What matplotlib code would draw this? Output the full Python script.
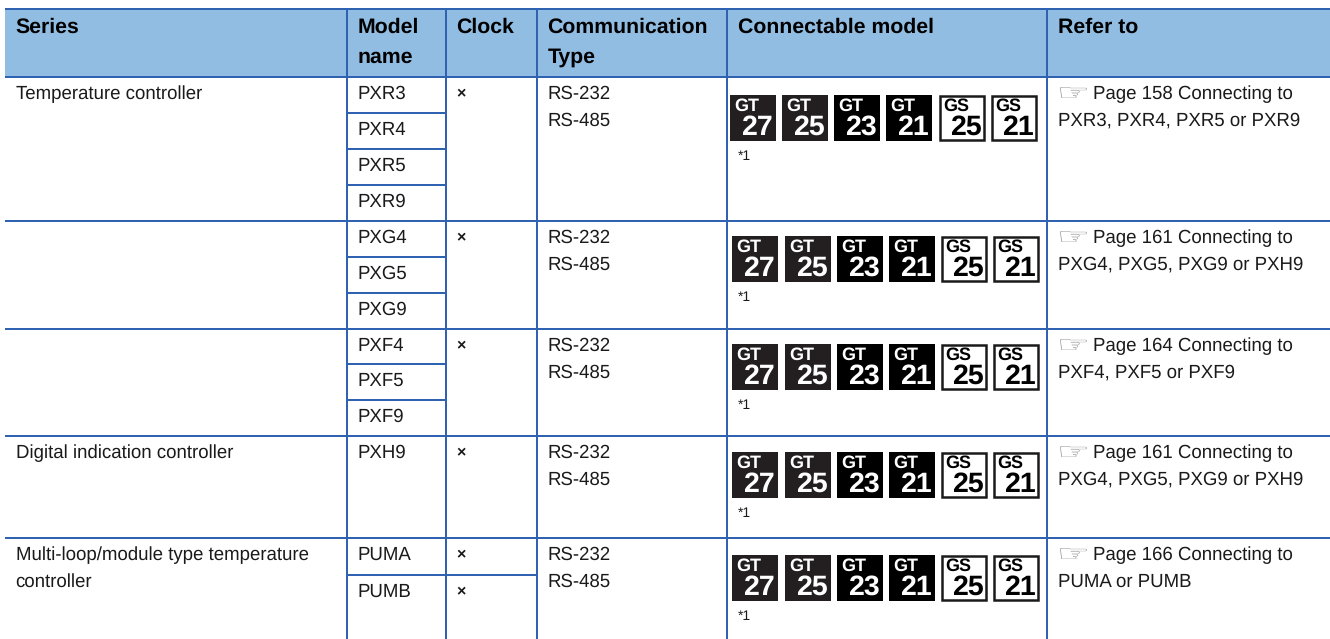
import matplotlib
matplotlib.use("Agg")
import matplotlib.pyplot as plt
from matplotlib.patches import Rectangle, PathPatch
from matplotlib.textpath import TextPath
from matplotlib.font_manager import FontProperties
from matplotlib.transforms import Affine2D

W, H = 1330, 639
FONT = ["Liberation Sans", "DejaVu Sans"]
plt.rcParams["font.family"] = FONT
plt.rcParams["text.hinting"] = "no_hinting"
plt.rcParams["text.hinting_factor"] = 8

# ---- content
headers = [["Series"], ["Model", "name"], ["Clock"], ["Communication", "Type"],
           ["Connectable model"], ["Refer to"]]
series = [("Temperature controller",), ("Digital indication controller",),
          ("Multi-loop/module type temperature", "controller")]
models = ["PXR3", "PXR4", "PXR5", "PXR9", "PXG4", "PXG5", "PXG9", "PXF4", "PXF5", "PXF9",
          "PXH9", "PUMA", "PUMB"]
clock_mark = "×"
comm_types = ["RS-232", "RS-485"]
refers = [("Page 158 Connecting to", "PXR3, PXR4, PXR5 or PXR9"),
          ("Page 161 Connecting to", "PXG4, PXG5, PXG9 or PXH9"),
          ("Page 164 Connecting to", "PXF4, PXF5 or PXF9"),
          ("Page 161 Connecting to", "PXG4, PXG5, PXG9 or PXH9"),
          ("Page 166 Connecting to", "PUMA or PUMB")]
badge_series = ["GT", "GT", "GT", "GT", "GS", "GS"]
badge_numbers = ["27", "25", "23", "21", "25", "21"]
footnote = "*1"
pointer = "\u261e"

# ---- layout (pixels)
col_x = [5, 347, 446, 537, 727, 1047, 1330]
top_y, head_y = 9, 77
model_y = [77, 113, 149, 185, 221, 257, 293, 329, 364, 400, 436, 538, 575, 639]
series_rows = [(0, 10), (10, 11), (11, 13)]
group_rows = [(0, 4), (4, 7), (7, 10), (10, 11), (11, 13)]
clock_rows = [0, 4, 7, 10, 11, 12]
badge_tops = [95, 236, 344, 452, 555]
badge_x_first = [730, 782, 834, 886, 939, 991]
badge_x_rest = [732, 785, 837, 889, 941, 993]
BLUE, HEAD = "#2f62b0", "#91bde3"
TXT = "#1a1a1a"

fig = plt.figure(figsize=(W / 100, H / 100), dpi=100)
ax = fig.add_axes([0, 0, 1, 1])
ax.set_xlim(0, W)
ax.set_ylim(H, 0)
ax.axis("off")

ax.add_patch(Rectangle((col_x[0], top_y), W - col_x[0], head_y - top_y, fc=HEAD, ec="none", zorder=0))


def hl(y, x0=col_x[0], x1=W):
    ax.plot([x0, x1], [y, y], color=BLUE, lw=1.44, solid_capstyle="butt", zorder=2)


def vl(x, y0=top_y, y1=H):
    ax.plot([x, x], [y0, y1], color=BLUE, lw=1.44, solid_capstyle="butt", zorder=2)


hl(top_y)
hl(head_y)
for x in col_x[1:6]:
    vl(x)
for a, b in group_rows[1:]:
    hl(model_y[a])
for i in range(1, 13):
    hl(model_y[i], col_x[1], col_x[2])
hl(model_y[12], col_x[1], col_x[3])

BODY = 13.4
HEADSZ = 15.3


def body(x, y, s, **kw):
    ax.text(x, y, s, fontsize=kw.pop("fs", BODY), color=kw.pop("c", TXT), va="center", ha="left", **kw)


def hand(x, y, w, h):
    tp = TextPath((0, 0), pointer, size=20, prop=FontProperties(family="DejaVu Sans"))
    bb = tp.get_extents()
    tr = (Affine2D().translate(-bb.x0, -bb.y0).scale(w / bb.width, -h / bb.height)
          .translate(x, y + h))
    ax.add_patch(PathPatch(tp, transform=tr + ax.transData, fc="#9a9a9a", ec="none", zorder=3))


# header
for i, lines in enumerate(headers):
    for j, s in enumerate(lines):
        ax.text(col_x[i] + 10.5, 27 + j * 30, s, fontsize=HEADSZ, fontweight="bold",
                color="black", va="center", ha="left")

# series
for (a, b), lines in zip(series_rows, series):
    for j, s in enumerate(lines):
        body(col_x[0] + 10.5, model_y[a] + 17 + j * 27, s)

# models
for i, s in enumerate(models):
    body(col_x[1] + 10.5, model_y[i] + 17, s)

# clock
for r in clock_rows:
    body(col_x[2] + 10.5, model_y[r] + 17, clock_mark, fontweight="bold", fs=11.5)

# comm, badges, refer
for g, (a, b) in enumerate(group_rows):
    top = model_y[a]
    for j, s in enumerate(comm_types):
        body(col_x[3] + 10.5, top + 17 + j * 27, s)
    xs = badge_x_first if g == 0 else badge_x_rest
    by = badge_tops[g]
    for x, sname, num in zip(xs, badge_series, badge_numbers):
        if sname == "GT":
            fc = "#231f20" if num in ("27", "25") else "black"
            ax.add_patch(Rectangle((x, by), 46, 46, fc=fc, ec="none", zorder=3))
            tc = "white"
            tx = x + 4.5
        else:
            ax.add_patch(Rectangle((x + 1, by + 1), 44, 44, fc="white", ec="#1a1a1a", lw=1.8, zorder=3))
            tc = "black"
            tx = x + 4
        ax.text(tx, by + 11, sname, fontsize=13, fontweight="bold", color=tc, va="center", ha="left", zorder=4)
        ax.text(x + 42.5, by + 32.5, num, fontsize=20.5, fontweight="bold", color=tc, va="center", ha="right", zorder=4)
    body(col_x[4] + 11, by + 61, footnote, fs=10)
    # refer
    l1, l2 = refers[g]
    hand(col_x[5] + 13, top + 10, 27, 11)
    body(col_x[5] + 46, top + 17, l1)
    body(col_x[5] + 10.5, top + 44, l2)

fig.savefig("out.png", dpi=100, facecolor="white")
